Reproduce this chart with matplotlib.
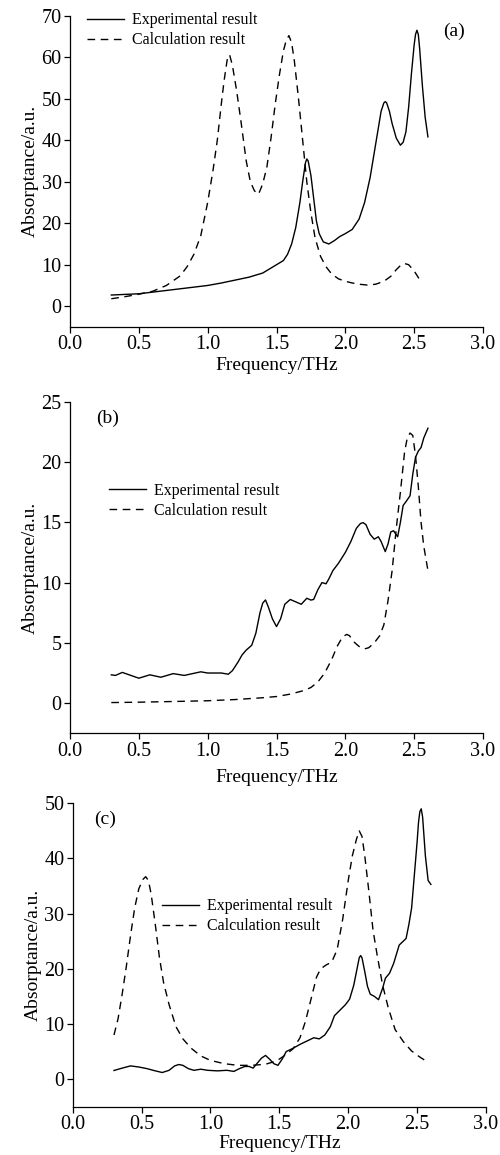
import matplotlib
matplotlib.use("Agg")
import matplotlib.pyplot as plt

plt.rcParams['font.family'] = ['Liberation Serif', 'DejaVu Serif']
plt.rcParams['mathtext.fontset'] = 'stix'

# painel (a)
freq_a_exp = [0.30, 0.40, 0.50, 0.60, 0.70, 0.80, 0.90, 1.00, 1.10, 1.20, 1.30, 1.40, 1.45, 1.50,
              1.55, 1.58, 1.61, 1.64, 1.67, 1.69, 1.71, 1.72, 1.73, 1.75, 1.77, 1.79, 1.81, 1.84,
              1.88, 1.92, 1.96, 2.00, 2.05, 2.10, 2.14, 2.18, 2.21, 2.24, 2.26, 2.28, 2.29, 2.30,
              2.32, 2.34, 2.37, 2.40, 2.42, 2.44, 2.46, 2.48, 2.50, 2.51, 2.52, 2.53, 2.54, 2.56,
              2.58, 2.60]
abs_a_exp = [2.7, 2.85, 3.0, 3.4, 3.8, 4.2, 4.6, 5.0, 5.6, 6.3, 7.0, 8.0, 9.0, 10.0,
             11.0, 12.5, 15.0, 19.0, 25.0, 30.0, 34.5, 35.5, 35.0, 31.5, 26.0, 20.5, 17.5, 15.5,
             15.0, 15.8, 16.8, 17.5, 18.5, 21.0, 25.0, 31.0, 37.0, 43.0, 47.0, 49.0, 49.3, 49.0,
             47.0, 44.0, 40.5, 38.8, 39.5, 42.0, 48.0, 56.0, 63.0, 65.5, 66.5, 65.5, 62.0, 53.0,
             45.5, 40.8]
freq_a_calc = [0.30, 0.40, 0.50, 0.60, 0.70, 0.80, 0.85, 0.90, 0.95, 1.00, 1.04, 1.07, 1.10, 1.12,
               1.14, 1.15, 1.16, 1.18, 1.21, 1.24, 1.28, 1.31, 1.34, 1.37, 1.40, 1.43, 1.46, 1.49,
               1.52, 1.55, 1.57, 1.59, 1.61, 1.63, 1.66, 1.69, 1.72, 1.75, 1.78, 1.82, 1.86, 1.90,
               1.95, 2.00, 2.05, 2.10, 2.16, 2.22, 2.28, 2.33, 2.37, 2.40, 2.43, 2.46, 2.50, 2.54]
abs_a_calc = [1.8, 2.3, 2.9, 3.6, 5.0, 7.3, 9.5, 12.5, 17.0, 25.0, 33.0, 40.0, 49.0, 54.5,
              59.0, 60.5, 60.5, 58.0, 52.0, 45.0, 35.0, 30.0, 27.8, 27.0, 29.5, 33.5, 40.5, 48.5,
              55.5, 61.5, 64.0, 65.2, 63.5, 59.0, 50.0, 40.0, 30.0, 22.5, 16.5, 12.0, 9.5, 7.8,
              6.6, 6.0, 5.6, 5.3, 5.1, 5.3, 6.0, 7.2, 8.8, 9.8, 10.3, 10.0, 8.5, 6.4]

# painel (b)
freq_b_exp = [0.30, 0.33, 0.38, 0.43, 0.50, 0.58, 0.66, 0.75, 0.83, 0.95, 1.00, 1.05, 1.10, 1.15,
              1.18, 1.22, 1.25, 1.28, 1.32, 1.35, 1.38, 1.40, 1.42, 1.44, 1.47, 1.50, 1.53, 1.56,
              1.60, 1.64, 1.68, 1.72, 1.75, 1.77, 1.80, 1.83, 1.86, 1.88, 1.91, 1.95, 2.00, 2.04,
              2.08, 2.11, 2.13, 2.15, 2.18, 2.21, 2.24, 2.26, 2.29, 2.31, 2.33, 2.35, 2.38, 2.40,
              2.42, 2.44, 2.47, 2.49, 2.51, 2.53, 2.55, 2.57, 2.60]
abs_b_exp = [2.35, 2.3, 2.55, 2.35, 2.07, 2.35, 2.15, 2.45, 2.3, 2.6, 2.5, 2.5, 2.5, 2.4,
             2.7, 3.4, 4.0, 4.4, 4.8, 5.8, 7.5, 8.3, 8.56, 8.0, 7.0, 6.35, 7.0, 8.2,
             8.6, 8.4, 8.2, 8.7, 8.55, 8.6, 9.4, 10.0, 9.9, 10.3, 11.0, 11.6, 12.5, 13.4,
             14.5, 14.9, 14.97, 14.8, 14.0, 13.6, 13.8, 13.4, 12.57, 13.2, 14.2, 14.3, 13.8, 15.0,
             16.4, 16.7, 17.2, 19.0, 20.4, 20.9, 21.2, 22.0, 22.8]
freq_b_calc = [0.30, 0.50, 0.80, 1.00, 1.20, 1.40, 1.50, 1.60, 1.70, 1.75, 1.80, 1.85, 1.90, 1.94,
               1.98, 2.01, 2.03, 2.06, 2.10, 2.14, 2.17, 2.21, 2.25, 2.28, 2.31, 2.34, 2.37, 2.40,
               2.43, 2.45, 2.47, 2.49, 2.51, 2.53, 2.55, 2.57, 2.60]
abs_b_calc = [0.05, 0.08, 0.15, 0.2, 0.3, 0.45, 0.55, 0.75, 1.05, 1.3, 1.75, 2.5, 3.6, 4.7,
              5.5, 5.7, 5.6, 5.1, 4.7, 4.5, 4.6, 5.0, 5.6, 6.5, 8.5, 11.0, 14.5, 17.5,
              20.8, 22.0, 22.4, 22.2, 20.5, 18.0, 15.0, 13.0, 11.0]

# painel (c)
freq_c_exp = [0.30, 0.36, 0.42, 0.48, 0.54, 0.60, 0.65, 0.70, 0.74, 0.77, 0.80, 0.84, 0.88, 0.93,
              0.98, 1.05, 1.12, 1.17, 1.21, 1.25, 1.28, 1.31, 1.34, 1.37, 1.40, 1.43, 1.46, 1.49,
              1.52, 1.55, 1.60, 1.65, 1.70, 1.75, 1.79, 1.83, 1.87, 1.90, 1.94, 1.98, 2.01, 2.04,
              2.06, 2.08, 2.09, 2.10, 2.12, 2.14, 2.16, 2.19, 2.22, 2.25, 2.27, 2.30, 2.33, 2.37,
              2.42, 2.44, 2.46, 2.48, 2.50, 2.51, 2.52, 2.53, 2.54, 2.55, 2.56, 2.58, 2.60]
abs_c_exp = [1.57, 2.0, 2.4, 2.2, 1.9, 1.5, 1.2, 1.6, 2.4, 2.65, 2.5, 1.9, 1.6, 1.8,
             1.6, 1.5, 1.6, 1.4, 1.9, 2.3, 2.3, 2.0, 2.9, 3.8, 4.3, 3.6, 2.8, 2.5,
             3.6, 5.0, 5.6, 6.3, 6.9, 7.5, 7.3, 8.0, 9.5, 11.5, 12.5, 13.5, 14.5, 17.0,
             19.5, 22.0, 22.4, 22.0, 19.5, 16.8, 15.4, 15.0, 14.4, 16.5, 18.3, 19.2, 21.0, 24.3,
             25.5, 28.0, 31.0, 37.0, 43.0, 46.5, 48.5, 49.0, 47.5, 44.0, 40.5, 36.0, 35.3]
freq_c_calc = [0.30, 0.33, 0.36, 0.39, 0.42, 0.45, 0.48, 0.51, 0.53, 0.55, 0.57, 0.60, 0.63, 0.66,
               0.70, 0.75, 0.80, 0.86, 0.93, 1.00, 1.10, 1.20, 1.30, 1.40, 1.48, 1.54, 1.60, 1.65,
               1.69, 1.73, 1.77, 1.80, 1.84, 1.88, 1.92, 1.96, 2.00, 2.03, 2.06, 2.08, 2.10, 2.12,
               2.15, 2.18, 2.21, 2.25, 2.29, 2.34, 2.40, 2.46, 2.52, 2.57]
abs_c_calc = [8.0, 11.0, 15.5, 20.5, 26.0, 31.0, 34.5, 36.2, 36.7, 36.0, 33.5, 28.0, 22.0, 17.5,
              13.5, 9.5, 7.3, 5.6, 4.2, 3.4, 2.8, 2.5, 2.5, 2.7, 3.3, 4.3, 5.5, 7.5,
              10.5, 14.5, 18.5, 20.0, 20.7, 21.2, 23.5, 29.0, 36.0, 40.5, 43.5, 45.0, 44.0, 40.5,
              34.0, 27.0, 22.5, 17.0, 13.0, 9.0, 6.8, 5.1, 4.0, 3.2]

leg_exp = 'Experimental result'
leg_calc = 'Calculation result'
xlabel = 'Frequency/THz'
ylabel = 'Absorptance/a.u.'

paineis = [
    # rect, dados, ylim, yticks, legenda (x, y), rotulo (texto, x, y), labelpad
    ([0.14, 0.7169, 0.826, 0.2695], (freq_a_exp, abs_a_exp, freq_a_calc, abs_a_calc),
     (-5, 70), range(0, 71, 10), (0.041, 0.9525), ('(a)', 0.93, 0.951), 2),
    ([0.14, 0.3651, 0.826, 0.2871], (freq_b_exp, abs_b_exp, freq_b_calc, abs_b_calc),
     (-2.5, 25), range(0, 26, 5), (0.094, 0.701), ('(b)', 0.09, 0.951), 6),
    ([0.1453, 0.0418, 0.8267, 0.2627], (freq_c_exp, abs_c_exp, freq_c_calc, abs_c_calc),
     (-5, 50), range(0, 51, 10), (0.216, 0.6276), ('(c)', 0.078, 0.948), 1),
]

fig = plt.figure(figsize=(5, 11.55), dpi=100)

for rect, dados, ylim, yticks, leg_pos, rotulo, lpad in paineis:
    ax = fig.add_axes(rect)
    fx, fy, cx, cy = dados
    ax.plot(fx, fy, color='black', lw=1.0, label=leg_exp)
    ax.plot(cx, cy, color='black', lw=1.0, linestyle=(0, (5.5, 4)), label=leg_calc)

    ax.set_xlim(0, 3)
    ax.set_ylim(*ylim)
    ax.set_xticks([0.0, 0.5, 1.0, 1.5, 2.0, 2.5, 3.0])
    ax.set_xticklabels([f'{v:.1f}' for v in [0.0, 0.5, 1.0, 1.5, 2.0, 2.5, 3.0]])
    ax.set_yticks(list(yticks))
    ax.tick_params(direction='out', length=4, width=0.9, labelsize=14.5, pad=2)
    for s in ['top', 'right']:
        ax.spines[s].set_visible(False)
    for s in ['left', 'bottom']:
        ax.spines[s].set_linewidth(0.9)

    ax.set_xlabel(xlabel, fontsize=14, labelpad=lpad)
    ax.set_ylabel(ylabel, fontsize=14, labelpad=2)

    ax.legend(loc='center left', bbox_to_anchor=leg_pos, frameon=False, fontsize=11.5,
              handlelength=2.3, handletextpad=0.5, labelspacing=0.25,
              borderpad=0, borderaxespad=0)
    ax.text(rotulo[1], rotulo[2], rotulo[0], transform=ax.transAxes, fontsize=14,
            ha='center', va='center')

plt.savefig('out.png', dpi=100)
plt.close()
